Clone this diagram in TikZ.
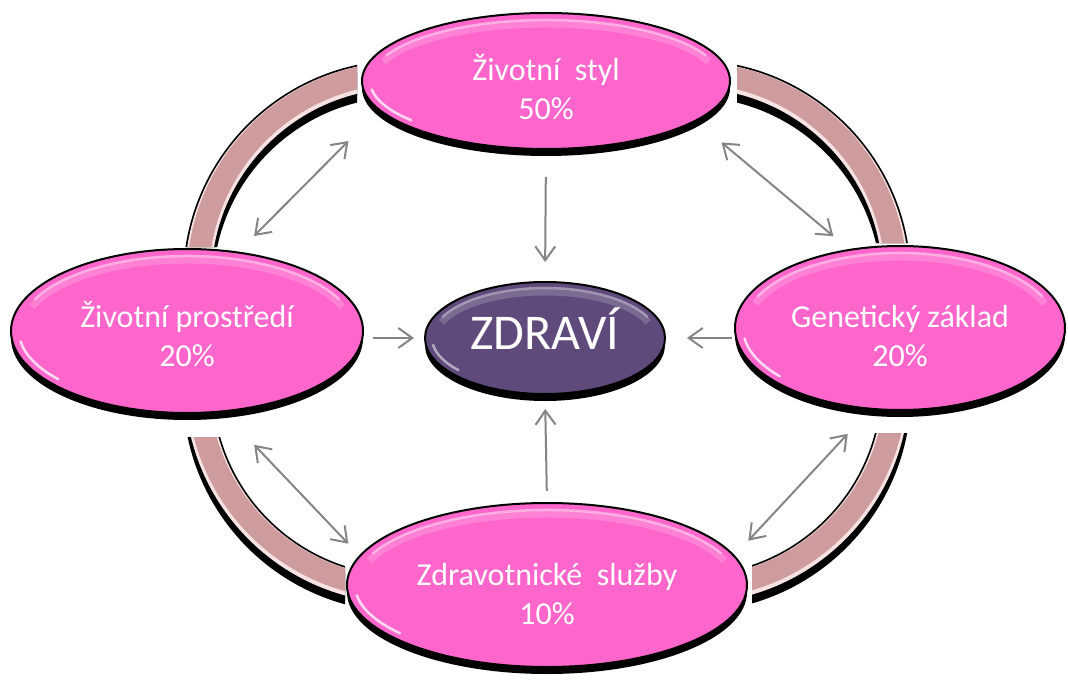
\documentclass[tikz,border=0pt]{standalone}
\usepackage{fontspec}
\setmainfont{Carlito}
\usetikzlibrary{shapes.geometric,arrows.meta,shadows}
\definecolor{hotpk}{HTML}{FF66CC}
\definecolor{zdr}{HTML}{5F4A7B}
\definecolor{ringc}{HTML}{CE9C9C}
\definecolor{ringl}{HTML}{F6E2E2}
\definecolor{arrc}{HTML}{858585}
\newcommand\glossy[5]{%
  \draw[white, opacity=.18, line width=7pt]
    ([shift={(200:#2-3 and #3-4)}]#1.center) arc[start angle=200, end angle=340, x radius=#2-3, y radius=#3-4];
  \draw[#4, opacity=.7, line width=2.5pt, line cap=round]
    ([shift={(205:#2 and #3)}]#1.center) arc[start angle=205, end angle=335, x radius=#2, y radius=#3];
  \draw[#5, opacity=.75, line width=2.5pt, line cap=round]
    ([shift={(140:#2 and #3)}]#1.center) arc[start angle=140, end angle=172, x radius=#2, y radius=#3];
}
\newcommand\twoln[3]{\raisebox{#3}[39pt][39pt]{\begin{tabular}[t]{@{}c@{}}#1\\#2\end{tabular}}}
\begin{document}
\begin{tikzpicture}[x=1pt,y=-1pt,
  ell/.style={ellipse, draw=black, line width=2pt, inner sep=0pt, align=center, text=white,
     drop shadow={shadow xshift=0pt, shadow yshift=-7pt, opacity=1, fill=black}},
  pk/.style={ell, fill=hotpk, font=\fontsize{32}{39}\selectfont},
  tip/.tip={Straight Barb[length=14pt,width=20pt]},
  arr/.style={draw=arrc, line width=2pt, -tip},
  dbl/.style={draw=arrc, line width=2pt, tip-tip}
]
\useasboundingbox (0,0) rectangle (1068,682);

% ring
\path[save path=\ringp, rounded corners=205pt] (198,75) rectangle (896,590);
\begin{scope}
  \clip (0,0) rectangle (1068,682)
     (737,0) rectangle (357,170)
     (372,247) rectangle (0,437)
     (1068,243) rectangle (735,433)
     (752,495) rectangle (345,682);
  \draw[use path=\ringp, black, line width=30pt, transform canvas={yshift=-7pt}];
  \draw[use path=\ringp, black, line width=30pt];
  \draw[use path=\ringp, ringl, line width=26.5pt];
  \draw[use path=\ringp, ringc, line width=22pt, transform canvas={yshift=2pt}];
\end{scope}

% nodes
\node[pk, minimum width=368pt, minimum height=136pt] (T) at (546,81) {\twoln{Životní\ \ styl}{50\%}{0pt}};
\node[pk, minimum width=352pt, minimum height=164pt] (L) at (187,331) {\twoln{Životní prostředí}{20\%}{4pt}};
\node[pk, minimum width=330pt, minimum height=164pt] (R) at (900,328) {\twoln{Genetický základ}{20\%}{1pt}};
\node[pk, minimum width=400pt, minimum height=164pt] (B) at (547,585) {\twoln{Zdravotnické\ \ služby}{10\%}{0pt}};
\node[ell, fill=zdr, minimum width=240pt, minimum height=112pt, font=\fontsize{50}{60}\selectfont] (C) at (545,338) {\raisebox{0pt}[30pt][8pt]{ZDRAVÍ}};

\glossy{T}{176}{61}{hotpk!35!white}{white}
\glossy{L}{168}{75}{hotpk!35!white}{white}
\glossy{R}{157}{75}{hotpk!35!white}{white}
\glossy{B}{192}{75}{hotpk!35!white}{white}
\glossy{C}{113}{50}{zdr!45!white}{zdr!30!white}

% arrows to centre
\draw[arr, shorten <=27pt, shorten >=19pt] (T.south) -- (C.north);
\draw[arr, shorten <=11pt, shorten >=14pt] (B.north) -- (C.south);
\draw[arr, shorten <=9pt, shorten >=10pt] (L.east |- C.west) -- (C.west);
\draw[arr, shorten <=2pt, shorten >=21pt] (R.west |- C.east) -- (C.east);

% double arrows between neighbours
\draw[dbl, shorten <=22pt, shorten >=43pt] (L.57) -- (T.190);
\draw[dbl, shorten <=33pt, shorten >=20pt] (T.345) -- (R.123);
\draw[dbl, shorten <=45pt, shorten >=16pt] (L.294) -- (B.171);
\draw[dbl, shorten <=33pt, shorten >=20pt] (R.250) -- (B.9);
\end{tikzpicture}
\end{document}
